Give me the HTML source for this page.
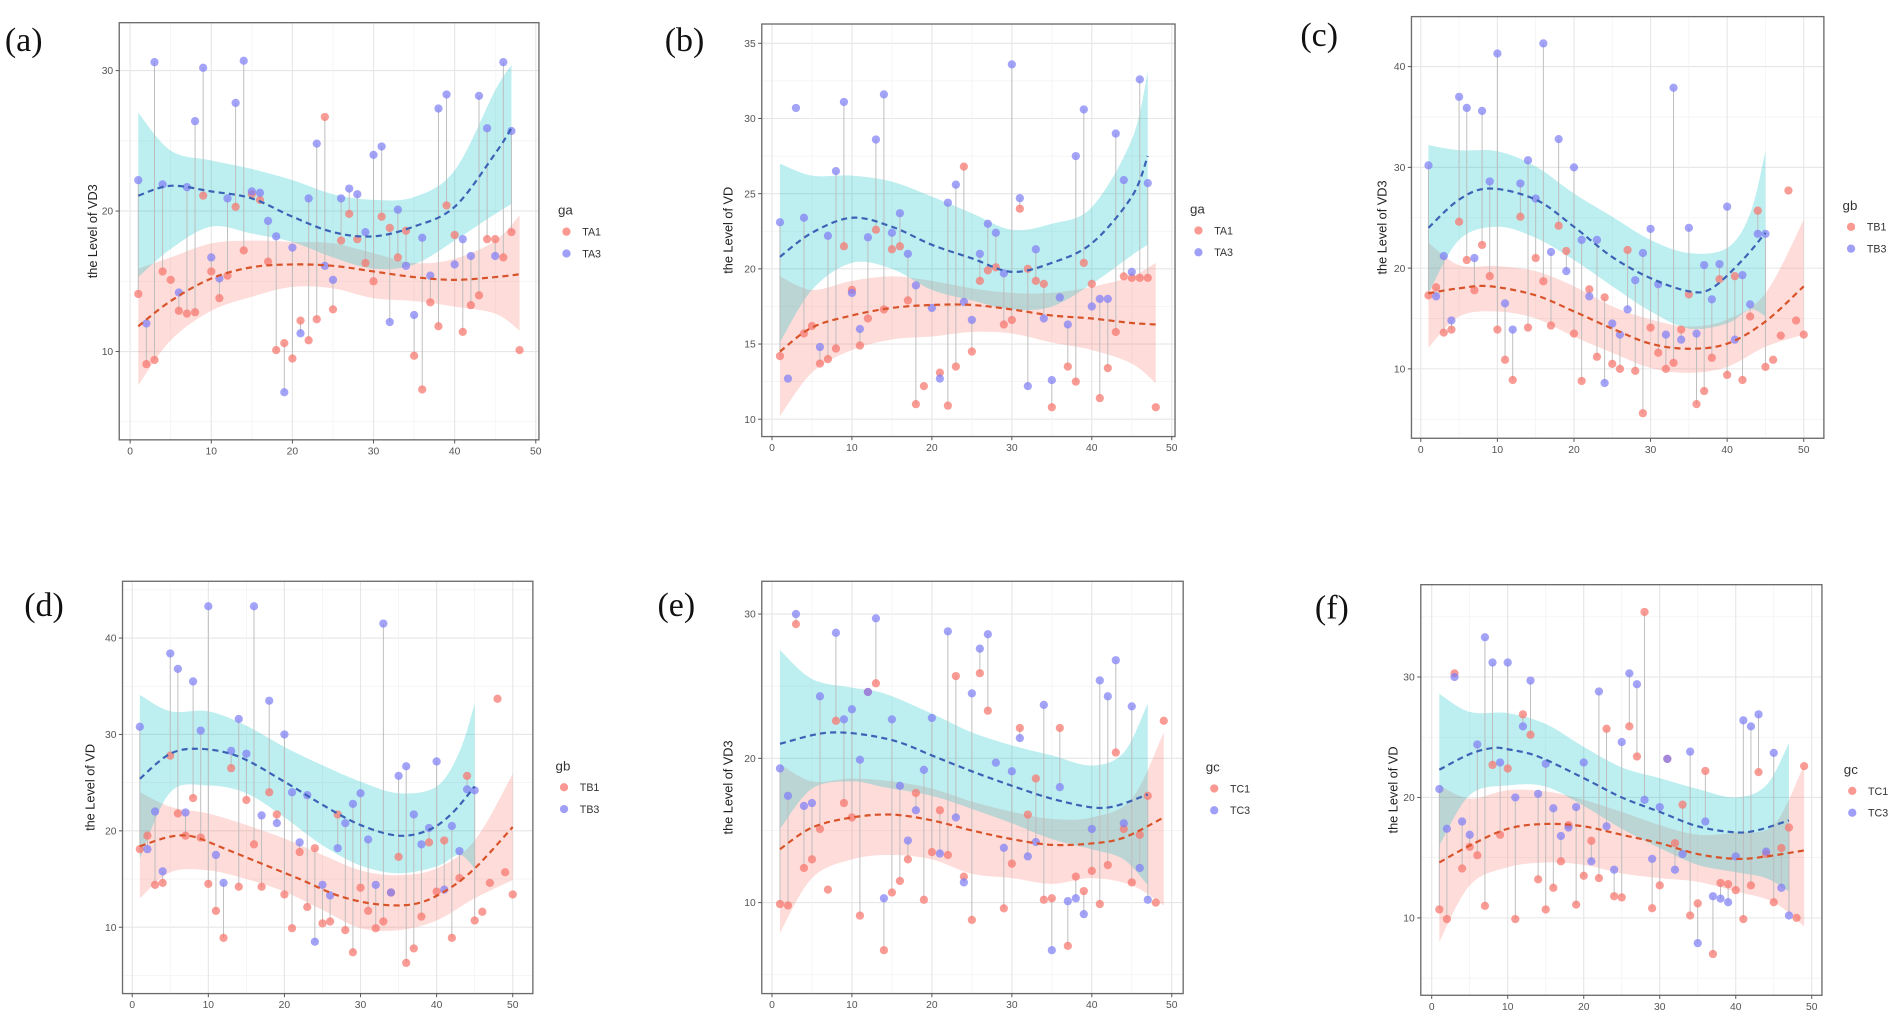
<!DOCTYPE html>
<html><head><meta charset="utf-8">
<style>
html,body{margin:0;padding:0;background:#fff;overflow:hidden;width:1902px;height:1025px;}
svg{display:block;}
svg text{font-family:"Liberation Sans",Arial,sans-serif;}
</style></head><body>
<svg id="fig" width="1902" height="1025" viewBox="0 0 1568 845" preserveAspectRatio="none" xmlns="http://www.w3.org/2000/svg"></svg>
<script>
// ---------- Panel (a) ----------
const aRed=[14.1,9.1,9.4,15.7,15.1,12.9,12.7,12.8,21.1,15.7,13.8,15.4,20.3,17.2,21.2,20.8,16.4,10.1,10.6,9.5,12.2,10.8,12.3,26.7,13.0,17.9,19.8,18.0,16.3,15.0,19.6,18.8,16.7,18.6,9.7,7.3,13.5,11.8,20.4,18.3,11.4,13.3,14.0,18.0,18.0,16.7,18.5,10.1];
const aBlue=[22.2,12.0,30.6,21.9,null,14.2,21.7,26.4,30.2,16.7,15.2,20.9,27.7,30.7,21.4,21.3,19.3,18.2,7.1,17.4,11.3,20.9,24.8,16.1,15.1,20.9,21.6,21.2,18.5,24.0,24.6,12.1,20.1,16.1,12.6,18.1,15.4,27.3,28.3,16.2,18.0,16.8,28.2,25.9,16.8,30.6,25.7,null];
const aBlueCurveX=[1,5,10,15,20,25,30,35,40,45,47];
const aBlueFit=[21.1,21.8,21.4,20.9,19.6,18.5,18.2,18.9,20.3,24.1,25.9];
const aBlueHi=[27.0,24.3,23.6,23.0,22.2,21.2,20.8,21.0,22.9,28.6,30.4];
const aBlueLo=[15.3,17.3,18.9,18.4,17.8,16.7,15.9,16.2,17.9,19.8,20.5];
const aRedCurveX=[1,5,10,15,20,25,30,35,40,45,48];
const aRedFit=[11.8,13.6,15.2,16.0,16.2,16.1,15.7,15.3,15.1,15.3,15.5];
const aRedHi=[15.9,16.7,17.7,17.9,17.8,17.7,17.0,16.3,16.6,17.9,19.7];
const aRedLo=[7.6,10.8,12.9,13.9,14.6,14.5,13.8,13.6,13.2,12.7,11.5];
const aYTicks=[10,20,30];
// ---------- Panel (b) ----------
const bRed=[14.2,null,null,15.7,16.2,13.7,14.0,14.7,21.5,18.6,14.9,16.7,22.6,17.3,21.3,21.5,17.9,11.0,12.2,null,13.1,10.9,13.5,26.8,14.5,19.2,19.9,20.1,16.3,16.6,24.0,20.0,19.2,19.0,10.8,null,13.5,12.5,20.4,19.0,11.4,13.4,15.8,19.5,19.4,19.4,19.4,10.8];
const bBlue=[23.1,12.7,30.7,23.4,null,14.8,22.2,26.5,31.1,18.4,16.0,22.1,28.6,31.6,22.4,23.7,21.0,18.9,null,17.4,12.7,24.4,25.6,17.8,16.6,21.0,23.0,22.4,19.7,33.6,24.7,12.2,21.3,16.7,12.6,18.1,16.3,27.5,30.6,17.5,18.0,18.0,29.0,25.9,19.8,32.6,25.7,null];
const bBlueCurveX=[1,5,10,15,20,25,30,35,40,45,47];
const bBlueFit=[20.8,22.4,23.4,22.8,21.6,20.7,19.8,20.4,21.7,24.8,27.5];
const bBlueHi=[27.0,26.2,26.2,25.8,24.8,23.7,22.6,23.0,24.1,28.6,33.1];
const bBlueLo=[15.1,18.6,20.4,20.0,18.6,17.9,17.3,17.5,19.0,20.9,21.6];
const bRedCurveX=[1,5,10,15,20,25,30,35,40,45,48];
const bRedFit=[14.5,16.1,16.9,17.4,17.6,17.6,17.3,16.9,16.7,16.4,16.3];
const bRedHi=[19.5,18.6,19.2,19.5,19.2,18.7,18.4,18.4,18.8,19.5,20.4];
const bRedLo=[10.2,13.1,14.6,15.3,15.5,15.8,15.7,15.1,14.6,13.7,12.4];
const bYTicks=[10,15,20,25,30,35];
// ---------- Panel (c) ----------
const cRed=[17.3,18.1,13.6,13.9,24.6,20.8,17.8,22.3,19.2,13.9,10.9,8.9,25.1,14.1,21.0,18.7,14.3,24.2,21.7,13.5,8.8,17.9,11.2,17.1,10.5,10.0,21.8,9.8,5.6,14.1,11.6,10.0,10.6,13.9,17.4,6.5,7.8,11.1,18.9,9.4,19.2,8.9,15.2,25.7,10.2,10.9,13.3,27.7,14.8,13.4];
const cBlue=[30.2,17.2,21.2,14.8,37.0,35.9,21.0,35.6,28.6,41.3,16.5,13.9,28.4,30.7,26.9,42.3,21.6,32.8,19.7,30.0,22.8,17.2,22.8,8.6,14.5,13.4,15.9,18.8,21.5,23.9,18.4,13.4,37.9,12.9,24.0,13.5,20.3,16.9,20.4,26.1,12.9,19.3,16.4,23.4,23.4,null,null,null,null,null];
const cBlueCurveX=[1,5,9,15,20,25,30,35,38,42,45];
const cBlueFit=[24.0,26.8,27.9,26.8,24.1,21.1,19.0,17.7,18.0,20.8,23.5];
const cBlueHiX=[1,5,10,15,20,25,30,35,40,43,45];
const cBlueHi=[32.2,31.7,31.6,30.1,27.4,25.1,22.8,21.5,22.0,25.4,31.6];
const cBlueLo=[17.5,22.8,24.1,23.0,20.8,18.2,15.7,14.0,14.5,15.9,15.2];
const cRedCurveX=[1,5,9,15,20,25,30,35,40,45,50];
const cRedFit=[17.5,18.0,18.2,17.3,15.7,14.0,12.5,12.0,12.5,14.7,18.2];
const cRedBandX=[1,5,10,15,20,25,30,35,40,45,50];
const cRedHi=[22.5,20.3,20.2,19.7,18.2,16.2,14.9,14.2,14.9,17.5,24.8];
const cRedLo=[12.1,15.2,15.7,15.0,13.2,11.6,10.1,9.6,10.2,12.2,13.4];
const cYTicks=[10,20,30,40];
// ---------- Panel (d) ----------
const dRed=[18.1,19.5,14.4,14.6,27.8,21.8,19.5,23.4,19.3,14.5,11.7,8.9,26.5,14.2,23.2,18.6,14.2,24.0,21.7,13.4,9.9,17.8,12.1,18.2,10.4,10.6,21.7,9.7,7.4,14.1,11.7,9.9,10.6,13.6,17.3,6.3,7.8,11.1,18.8,13.7,19.0,8.9,15.1,25.7,10.7,11.6,14.6,33.7,15.7,13.4];
const dBlue=[30.8,18.1,22.0,15.8,38.4,36.8,21.9,35.5,30.4,43.3,17.5,14.6,28.3,31.6,28.0,43.3,21.6,33.5,20.8,30.0,24.0,18.8,23.7,8.5,14.4,13.3,18.2,20.8,22.8,23.9,19.1,14.4,41.5,13.6,25.7,26.7,21.7,18.6,20.3,27.2,13.9,20.5,17.9,24.3,24.2,null,null,null,null,null];
const dBlueCurveX=[1,5,9,14,20,25,30,35,39,42,45];
const dBlueFit=[25.4,28.0,28.5,27.7,25.1,22.7,20.6,19.5,20.1,21.8,24.6];
const dBlueBandX=[1,5,10,15,20,25,30,35,40,43,45];
const dBlueHi=[34.1,32.4,32.4,30.9,28.7,26.8,25.1,23.9,24.6,28.2,33.2];
const dBlueLo=[17.1,24.0,24.7,23.9,21.4,18.5,16.4,15.6,16.3,17.5,16.1];
const dRedCurveX=[1,5,8,12,17,22,27,32,37,41,45,50];
const dRedFit=[18.4,19.4,19.4,18.2,16.6,15.0,13.3,12.4,12.4,13.7,16.1,20.4];
const dRedBandX=[1,5,10,15,20,25,30,35,40,45,50];
const dRedHi=[24.0,22.5,21.8,20.6,19.2,17.5,15.9,15.4,16.1,19.0,25.9];
const dRedLo=[13.0,15.7,15.9,15.0,13.7,11.8,9.9,9.7,10.7,13.0,14.9];
const dYTicks=[10,20,30,40];
// ---------- Panel (e) ----------
const eRed=[9.9,9.8,29.3,12.4,13.0,15.1,10.9,22.6,16.9,15.9,9.1,24.6,25.2,6.7,10.7,11.5,13.0,17.6,10.2,13.5,16.4,13.3,25.7,11.8,8.8,25.9,23.3,null,9.6,12.7,22.1,16.1,18.6,10.2,10.3,22.1,7.0,11.8,10.8,12.2,9.9,12.6,20.4,15.1,11.4,14.7,17.4,10.0,22.6];
const eBlue=[19.3,17.4,30.0,16.7,16.9,24.3,null,28.7,22.7,23.4,19.9,24.6,29.7,10.3,22.7,18.1,14.3,16.4,19.2,22.8,13.4,28.8,15.9,11.4,24.5,27.6,28.6,19.7,13.8,19.1,21.4,13.2,14.2,23.7,6.7,18.0,10.1,10.3,9.2,15.1,25.4,24.3,26.8,15.5,23.6,12.4,10.2,null,null];
const eBlueCurveX=[1,5,8,12,16,20,25,30,35,40,43,47];
const eBlueFit=[21.0,21.6,21.8,21.6,21.1,20.2,19.1,18.1,17.2,16.6,16.7,17.5];
const eBlueBandX=[1,5,10,14,20,25,30,35,40,44,47];
const eBlueHi=[27.5,25.5,24.9,24.5,23.1,21.8,20.9,20.2,19.5,20.4,23.8];
const eBlueLo=[15.1,17.9,18.4,18.0,17.4,16.5,15.5,14.4,13.7,13.0,11.2];
const eRedCurveX=[1,5,10,15,20,25,30,35,40,44,49];
const eRedFit=[13.7,15.2,15.9,16.1,15.7,15.0,14.4,14.0,14.1,14.5,15.9];
const eRedBandX=[1,5,10,15,20,25,30,35,40,45,49];
const eRedHi=[19.6,18.4,18.6,18.4,17.9,17.0,16.3,15.8,15.9,17.2,21.8];
const eRedLo=[7.9,11.7,13.0,13.3,13.0,12.0,11.7,11.3,11.7,11.2,9.8];
const eYTicks=[10,20,30];
// ---------- Panel (f) ----------
const fRed=[10.7,9.9,30.3,14.1,15.9,15.2,11.0,22.7,16.9,22.4,9.9,26.9,25.2,13.2,10.7,12.5,14.7,17.7,11.1,13.5,16.4,13.3,25.7,11.8,11.7,25.9,23.4,35.4,10.8,12.7,23.2,16.2,19.4,10.2,11.2,22.2,7.0,12.9,12.8,12.3,9.9,12.7,22.1,15.3,11.3,15.8,17.5,10.0,22.6];
const fBlue=[20.7,17.4,30.0,18.0,16.9,24.4,33.3,31.2,22.9,31.2,20.0,25.9,29.7,20.3,22.8,19.1,16.8,17.5,19.2,22.9,14.7,28.8,17.6,14.0,24.6,30.3,29.4,19.8,14.9,19.2,23.2,14.0,15.3,23.8,7.9,18.0,11.8,11.6,11.3,15.1,26.4,25.9,26.9,15.5,23.7,12.5,10.2,null,null];
const fBlueCurveX=[1,5,8,10,14,20,25,30,35,40,43,47];
const fBlueFit=[22.3,23.6,24.1,24.0,23.4,21.6,20.0,18.8,17.6,17.1,17.3,18.1];
const fBlueBandX=[1,5,10,15,20,25,30,35,40,44,47];
const fBlueHi=[28.6,27.1,27.0,26.1,24.2,22.5,21.6,20.7,20.0,21.0,24.5];
const fBlueLo=[16.0,20.2,21.0,20.9,19.3,17.4,15.8,14.4,13.8,13.3,12.2];
const fRedCurveX=[1,5,10,15,20,25,30,35,40,44,49];
const fRedFit=[14.6,16.0,17.4,17.8,17.6,16.9,16.2,15.3,14.9,15.1,15.6];
const fRedBandX=[1,5,10,15,20,25,30,35,40,45,49];
const fRedHi=[21.0,19.9,20.6,20.5,19.8,18.8,17.7,16.9,17.1,17.7,22.7];
const fRedLo=[8.0,12.7,14.2,14.6,14.4,13.7,13.3,13.0,12.2,11.3,9.3];
const fYTicks=[10,20,30];
const xTicks=[0,10,20,30,40,50];

const NS='http://www.w3.org/2000/svg';
const svg=document.getElementById('fig');
function mk(tag,attrs,parent){const e=document.createElementNS(NS,tag);for(const k in attrs)e.setAttribute(k,attrs[k]);(parent||svg).appendChild(e);return e;}
function catmull(pts){
  if(pts.length<2)return '';
  let d='M'+pts[0][0].toFixed(2)+','+pts[0][1].toFixed(2);
  for(let i=0;i<pts.length-1;i++){
    const p0=pts[i-1]||pts[i],p1=pts[i],p2=pts[i+1],p3=pts[i+2]||p2;
    const c1x=p1[0]+(p2[0]-p0[0])/6,c1y=p1[1]+(p2[1]-p0[1])/6;
    const c2x=p2[0]-(p3[0]-p1[0])/6,c2y=p2[1]-(p3[1]-p1[1])/6;
    d+=' C'+c1x.toFixed(2)+','+c1y.toFixed(2)+' '+c2x.toFixed(2)+','+c2y.toFixed(2)+' '+p2[0].toFixed(2)+','+p2[1].toFixed(2);
  }
  return d;
}

const panels=[
 {id:'a',label:'(a)',lx:4,ly:42,box:[98.3,18.7,444.3,362.6],x0:107.3,x50:441.7,ya:[10,289.8],yb:[30,58.2],yticks:aYTicks,ytitle:'the Level of VD3',ytx:80,leg:'ga',s1:'TA1',s2:'TA3',legX:460,legY:173,
  red:aRed,blue:aBlue,bx:aBlueCurveX,bfit:aBlueFit,bbx:aBlueCurveX,bhi:aBlueHi,blo:aBlueLo,rx:aRedCurveX,rfit:aRedFit,rbx:aRedCurveX,rhi:aRedHi,rlo:aRedLo},
 {id:'b',label:'(b)',lx:548,ly:42,box:[628,19.8,968.7,359.9],x0:636.4,x50:966.0,ya:[10,345.6],yb:[35,35.7],yticks:bYTicks,ytitle:'the Level of VD',ytx:604,leg:'ga',s1:'TA1',s2:'TA3',legX:981,legY:172,
  red:bRed,blue:bBlue,bx:bBlueCurveX,bfit:bBlueFit,bbx:bBlueCurveX,bhi:bBlueHi,blo:bBlueLo,rx:bRedCurveX,rfit:bRedFit,rbx:bRedCurveX,rhi:bRedHi,rlo:bRedLo},
 {id:'c',label:'(c)',lx:1072,ly:38,box:[1163.6,13.7,1503.6,361.3],x0:1171.3,x50:1487,ya:[10,304.1],yb:[40,54.9],yticks:cYTicks,ytitle:'the Level of VD3',ytx:1143,leg:'gb',s1:'TB1',s2:'TB3',legX:1519,legY:169,
  red:cRed,blue:cBlue,bx:cBlueCurveX,bfit:cBlueFit,bbx:cBlueHiX,bhi:cBlueHi,blo:cBlueLo,rx:cRedCurveX,rfit:cRedFit,rbx:cRedBandX,rhi:cRedHi,rlo:cRedLo},
 {id:'d',label:'(d)',lx:20,ly:508,box:[101,479.2,439.3,819.1],x0:109,x50:422.7,ya:[10,764.4],yb:[40,526],yticks:dYTicks,ytitle:'the Level of VD',ytx:78,leg:'gb',s1:'TB1',s2:'TB3',legX:458,legY:631,
  red:dRed,blue:dBlue,bx:dBlueCurveX,bfit:dBlueFit,bbx:dBlueBandX,bhi:dBlueHi,blo:dBlueLo,rx:dRedCurveX,rfit:dRedFit,rbx:dRedBandX,rhi:dRedHi,rlo:dRedLo},
 {id:'e',label:'(e)',lx:542,ly:508,box:[628,479.2,975.4,819.1],x0:636.4,x50:966,ya:[10,744.1],yb:[30,506.2],yticks:eYTicks,ytitle:'the Level of VD3',ytx:604,leg:'gc',s1:'TC1',s2:'TC3',legX:994,legY:632,
  red:eRed,blue:eBlue,bx:eBlueCurveX,bfit:eBlueFit,bbx:eBlueBandX,bhi:eBlueHi,blo:eBlueLo,rx:eRedCurveX,rfit:eRedFit,rbx:eRedBandX,rhi:eRedHi,rlo:eRedLo},
 {id:'f',label:'(f)',lx:1084,ly:510,box:[1171.3,482,1502,820.5],x0:1180.3,x50:1493.6,ya:[10,756.7],yb:[30,558.1],yticks:fYTicks,ytitle:'the Level of VD',ytx:1152,leg:'gc',s1:'TC1',s2:'TC3',legX:1520,legY:634,
  red:fRed,blue:fBlue,bx:fBlueCurveX,bfit:fBlueFit,bbx:fBlueBandX,bhi:fBlueHi,blo:fBlueLo,rx:fRedCurveX,rfit:fRedFit,rbx:fRedBandX,rhi:fRedHi,rlo:fRedLo}
];

panels.forEach(P=>{
  const [L,T,R,B]=P.box;
  const sx=v=>P.x0+(P.x50-P.x0)*v/50;
  const sy=v=>P.ya[1]+(P.yb[1]-P.ya[1])*(v-P.ya[0])/(P.yb[0]-P.ya[0]);
  const g=mk('g',{});
  
  
  const clipId='clip'+P.id;
  const cp=mk('clipPath',{id:clipId},g);mk('rect',{x:L,y:T,width:R-L,height:B-T},cp);
  mk('rect',{x:L,y:T,width:R-L,height:B-T,fill:'#fff'},g);
  const grid=mk('g',{'clip-path':'url(#'+clipId+')'},g);
  
  
  const step=P.yticks[1]-P.yticks[0];
  for(let v=P.yticks[0]-step*1.5;v<=P.yticks[P.yticks.length-1]+step*1.5;v+=step){
    mk('line',{x1:L,x2:R,y1:sy(v),y2:sy(v),stroke:'#f2f2f2','stroke-width':0.6},grid);
  }
  P.yticks.forEach(v=>mk('line',{x1:L,x2:R,y1:sy(v),y2:sy(v),stroke:'#e6e6e6','stroke-width':0.9},grid));
  for(let v=5;v<=55;v+=10) mk('line',{y1:T,y2:B,x1:sx(v),x2:sx(v),stroke:'#f2f2f2','stroke-width':0.6},grid);
  xTicks.forEach(v=>mk('line',{y1:T,y2:B,x1:sx(v),x2:sx(v),stroke:'#e6e6e6','stroke-width':0.9},grid));
  const plot=mk('g',{'clip-path':'url(#'+clipId+')'},g);
  function band(xs,hi,lo,color,name){
    const top=xs.map((x,i)=>[sx(x),sy(hi[i])]);
    const bot=xs.map((x,i)=>[sx(x),sy(lo[i])]).reverse();
    const d=catmull(top)+' L'+catmull(bot).slice(1)+' Z';
    const p=mk('path',{d:d,fill:color,'fill-opacity':0.26,stroke:'none'},plot);
    
    
  }
  band(P.rbx,P.rhi,P.rlo,'#F8766D','confidence-band-'+P.s1.toLowerCase());
  band(P.bbx,P.bhi,P.blo,'#00BFC4','confidence-band-'+P.s2.toLowerCase());
  P.red.forEach((r,i)=>{
    const b=P.blue[i];
    if(r!=null&&b!=null){
      const ln=mk('line',{x1:sx(i+1),x2:sx(i+1),y1:sy(r),y2:sy(b),stroke:'#bdbdbd','stroke-width':0.8},plot);
      
      
    }
  });
  P.red.forEach((v,i)=>{ if(v==null)return;
    const c=mk('circle',{cx:sx(i+1),cy:sy(v),r:3.4,fill:'#F8766D','fill-opacity':0.72},plot);
    
    
  });
  P.blue.forEach((v,i)=>{ if(v==null)return;
    const c=mk('circle',{cx:sx(i+1),cy:sy(v),r:3.4,fill:'#7F7FF5','fill-opacity':0.72},plot);
    
    
  });
  const rl=mk('path',{d:catmull(P.rx.map((x,i)=>[sx(x),sy(P.rfit[i])])),fill:'none',stroke:'#D9532A','stroke-width':1.8,'stroke-dasharray':'5,3.5'},plot);
  
  
  const bl=mk('path',{d:catmull(P.bx.map((x,i)=>[sx(x),sy(P.bfit[i])])),fill:'none',stroke:'#3B63B5','stroke-width':1.8,'stroke-dasharray':'5,3.5'},plot);
  
  
  const fr=mk('rect',{x:L,y:T,width:R-L,height:B-T,fill:'none',stroke:'#6b6b6b','stroke-width':1.1},g);
  
  
  P.yticks.forEach(v=>{
    mk('line',{x1:L-3,x2:L,y1:sy(v),y2:sy(v),stroke:'#555','stroke-width':0.8},g);
    const t=mk('text',{x:L-5,y:sy(v)+3,'text-anchor':'end','font-size':8.5,fill:'#555'},g);
    t.textContent=v;
    
    
  });
  xTicks.forEach(v=>{
    mk('line',{x1:sx(v),x2:sx(v),y1:B,y2:B+3,stroke:'#555','stroke-width':0.8},g);
    const t=mk('text',{x:sx(v),y:B+12,'text-anchor':'middle','font-size':8.5,fill:'#555'},g);
    t.textContent=v;
    
    
  });
  const cy=(T+B)/2;
  const yt=mk('text',{x:P.ytx,y:cy,'text-anchor':'middle','font-size':10.5,fill:'#222',transform:'rotate(-90 '+P.ytx+' '+cy+')'},g);
  yt.textContent=P.ytitle;
  
  
  const pl=mk('text',{x:P.lx,y:P.ly,'font-size':28,fill:'#111'},g);
  pl.textContent=P.label;
  pl.style.fontFamily='"Liberation Serif","Noto Serif CJK SC",serif';
  
  
  const lg=mk('g',{},g);
  
  
  const lt=mk('text',{x:P.legX,y:P.legY+4,'font-size':11,fill:'#333'},lg);
  lt.textContent=P.leg;
  
  
  [[P.s1,'#F8766D',18],[P.s2,'#7F7FF5',36]].forEach(([name,col,dy])=>{
    const e=mk('g',{},lg);
    
    
    mk('circle',{cx:P.legX+7,cy:P.legY+dy,r:3.4,fill:col,'fill-opacity':0.75},e);
    const tx=mk('text',{x:P.legX+20,y:P.legY+dy+3.2,'font-size':8.8,fill:'#333'},e);
    tx.textContent=name;
  });
});
</script>
</body></html>
